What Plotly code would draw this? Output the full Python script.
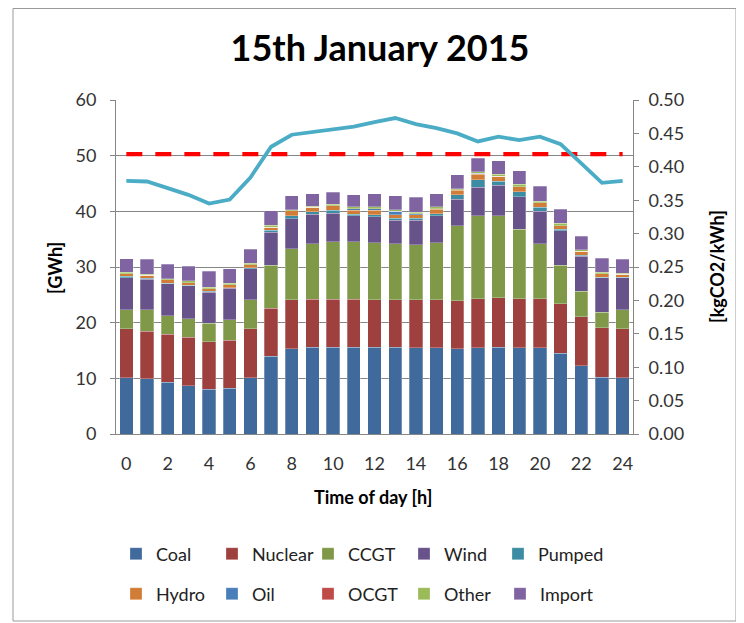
import plotly.graph_objects as go

hours = list(range(25))
tick_labels = ["0", "2", "4", "6", "8", "10", "12", "14", "16", "18", "20", "22", "24"]

coal    = [10.1, 9.9, 9.3, 8.7, 8.0, 8.2, 10.1, 14.0, 15.3, 15.6, 15.6, 15.6, 15.6, 15.6, 15.5, 15.5, 15.3, 15.5, 15.6, 15.5, 15.5, 14.5, 12.3, 10.2, 10.1]
nuclear = [8.8, 8.6, 8.6, 8.7, 8.6, 8.6, 8.8, 8.6, 8.8, 8.6, 8.6, 8.6, 8.5, 8.5, 8.6, 8.6, 8.6, 8.8, 8.9, 8.8, 8.8, 8.9, 8.8, 8.9, 8.8]
ccgt    = [3.4, 3.8, 3.3, 3.3, 3.3, 3.7, 5.2, 7.7, 9.2, 10.0, 10.3, 10.3, 10.3, 10.1, 9.9, 10.3, 13.5, 14.9, 14.7, 12.5, 9.9, 6.9, 4.5, 2.8, 3.4]
wind    = [5.8, 5.5, 5.8, 5.9, 5.6, 5.7, 5.6, 5.9, 5.4, 5.3, 5.2, 4.7, 4.6, 4.2, 4.4, 4.8, 4.8, 5.1, 5.5, 5.8, 5.8, 6.2, 6.3, 6.2, 5.8]
pumped  = [0.2, 0.2, 0.1, 0.1, 0.1, 0.1, 0.2, 0.4, 0.5, 0.4, 0.5, 0.3, 0.4, 0.4, 0.4, 0.4, 0.8, 1.4, 0.7, 0.9, 0.7, 0.3, 0.2, 0.1, 0.1]
hydro   = [0.5, 0.5, 0.6, 0.5, 0.5, 0.5, 0.5, 0.5, 0.9, 0.8, 0.8, 0.7, 0.8, 0.6, 0.6, 0.8, 0.8, 1.0, 0.9, 0.9, 0.8, 0.6, 0.7, 0.6, 0.5]
oil     = [0.0, 0.0, 0.0, 0.0, 0.0, 0.0, 0.0, 0.0, 0.0, 0.0, 0.0, 0.3, 0.3, 0.6, 0.2, 0.1, 0.1, 0.1, 0.0, 0.0, 0.0, 0.0, 0.0, 0.0, 0.0]
ocgt    = [0.0, 0.0, 0.0, 0.0, 0.0, 0.0, 0.0, 0.0, 0.0, 0.0, 0.0, 0.0, 0.0, 0.0, 0.0, 0.0, 0.0, 0.0, 0.0, 0.0, 0.0, 0.0, 0.0, 0.0, 0.0]
other   = [0.3, 0.2, 0.2, 0.3, 0.3, 0.3, 0.3, 0.4, 0.2, 0.2, 0.3, 0.3, 0.3, 0.3, 0.2, 0.3, 0.2, 0.3, 0.4, 0.5, 0.3, 0.5, 0.3, 0.3, 0.2]
imports = [2.4, 2.7, 2.6, 2.6, 2.8, 2.6, 2.5, 2.6, 2.5, 2.3, 2.1, 2.2, 2.4, 2.5, 2.7, 2.4, 2.5, 2.4, 2.4, 2.4, 2.7, 2.5, 2.4, 2.5, 2.5]

intensity = [0.379, 0.378, 0.368, 0.358, 0.345, 0.351, 0.384, 0.430, 0.448, 0.452, 0.457, 0.460, 0.467,
             0.473, 0.464, 0.458, 0.450, 0.438, 0.445, 0.440, 0.445, 0.434, 0.405, 0.376, 0.379]
reference_level = [0.419] * 25

series = [
    ("Coal", coal, "#406A9C", "legend"),
    ("Nuclear", nuclear, "#9E403E", "legend"),
    ("CCGT", ccgt, "#7F9948", "legend"),
    ("Wind", wind, "#68528A", "legend"),
    ("Pumped", pumped, "#3C8DA3", "legend3"),
    ("Hydro", hydro, "#D27D37", "legend2"),
    ("Oil", oil, "#4A7EBB", "legend2"),
    ("OCGT", ocgt, "#BE4B48", "legend2"),
    ("Other", other, "#9BBB59", "legend2"),
    ("Import", imports, "#8064A2", "legend2"),
]

FONT = "Lato"
W, H = 744, 623
OFF = 8  # page body margin: figure origin sits at screen (8, 8)
# plot area in screen pixels (as in the reference)
SL, SR, ST, SB = 116, 633, 100, 434


def px(x):
    return (x - SL) / (SR - SL)


def py(y):
    return (SB - y) / (SB - ST)


def cx(x):
    return (x - OFF) / W


def cy(y):
    return 1 - (y - OFF) / H


fig = go.Figure()
for name, vals, col, lg in series:
    fig.add_trace(go.Bar(
        x=hours, y=vals, name=name, legend=lg,
        marker=dict(color=col, line=dict(color="rgba(255,255,255,0.45)", width=0.6)),
    ))

fig.add_trace(go.Scatter(
    x=hours, y=reference_level, yaxis="y2", mode="lines", showlegend=False,
    line=dict(color="#FF0000", width=4.2, dash="16px,13px"),
))
fig.add_trace(go.Scatter(
    x=hours, y=intensity, yaxis="y2", mode="lines", showlegend=False,
    line=dict(color="#4BACC6", width=3.8),
))

shapes = [
    dict(type="rect", xref="paper", yref="paper", x0=px(736), x1=px(760), y0=py(0), y1=py(640),
         fillcolor="#e4e4e4", line=dict(width=0), layer="below"),
    dict(type="rect", xref="paper", yref="paper", x0=px(13), x1=px(736), y0=py(8.5), y1=py(621),
         fillcolor="white", line=dict(color="#9a9a9a", width=1), layer="below"),
]

title_font = dict(family=FONT, size=18, color="#000000")
annotations = [
    dict(text="<b>[GWh]</b>", xref="paper", yref="paper", x=px(55), y=py(268), textangle=-90,
         showarrow=False, xanchor="center", yanchor="middle", font=title_font),
    dict(text="<b>[kgCO2/kWh]</b>", xref="paper", yref="paper", x=px(717), y=py(267), textangle=-90,
         showarrow=False, xanchor="center", yanchor="middle", font=title_font),
    dict(text="<b>Time of day [h]</b>", xref="paper", yref="paper", x=px(373), y=py(497),
         showarrow=False, xanchor="center", yanchor="middle", font=title_font),
]

legend_common = dict(
    orientation="h", xanchor="left", yanchor="middle", bgcolor="rgba(0,0,0,0)",
    xref="container", yref="container",
    font=dict(family=FONT, size=18, color="#222222"),
    itemwidth=30, traceorder="normal",
)

fig.update_layout(
    width=W, height=H,
    margin=dict(l=SL - OFF, r=W - (SR - OFF), t=ST - OFF, b=H - (SB - OFF), pad=0, autoexpand=False),
    paper_bgcolor="white", plot_bgcolor="white",
    barmode="stack", bargap=0.355,
    font=dict(family=FONT, size=18, color="#333333"),
    title=dict(text="<b>15th January 2015</b>", x=cx(380), y=cy(48),
               xanchor="center", yanchor="middle",
               font=dict(family=FONT, size=36, color="#000000")),
    xaxis=dict(range=[-0.5, 24.5], tickmode="array", tickvals=list(range(0, 25, 2)), ticktext=tick_labels,
               showgrid=False, showline=True, linecolor="#868686", linewidth=1, ticks="",
               ticklabelstandoff=13, zeroline=False, automargin=False),
    yaxis=dict(range=[0, 60], dtick=10, showgrid=True, gridcolor="#868686", gridwidth=1,
               showline=True, linecolor="#868686", linewidth=1, ticks="outside", ticklen=5, tickcolor="#868686",
               zeroline=False, ticklabelstandoff=10, automargin=False),
    yaxis2=dict(range=[0, 0.5], dtick=0.05, tickformat=".2f", overlaying="y", side="right",
                showgrid=False, showline=True, linecolor="#868686", linewidth=1, ticks="outside", ticklen=5,
                tickcolor="#868686", zeroline=False, ticklabelstandoff=6, automargin=False),
    legend=dict(x=cx(116), y=cy(554), entrywidth=51, entrywidthmode="pixels", **legend_common),
    legend3=dict(x=cx(498), y=cy(554), **legend_common),
    legend2=dict(x=cx(116), y=cy(594), entrywidth=51, entrywidthmode="pixels", **legend_common),
    shapes=shapes,
    annotations=annotations,
)

fig.write_html("out.html")
